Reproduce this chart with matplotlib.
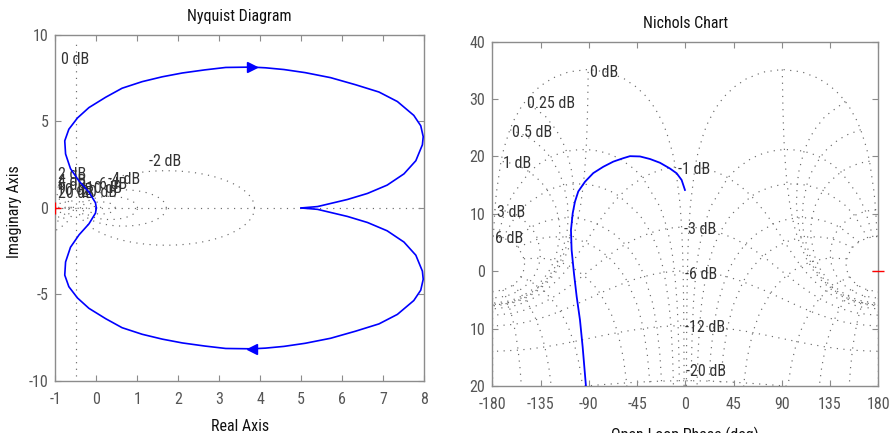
import numpy as np
import matplotlib
matplotlib.use("Agg")
import matplotlib.pyplot as plt
from matplotlib.patches import Rectangle

plt.rcParams['font.family'] = ['Liberation Sans Narrow', 'Arial Narrow', 'Roboto Condensed',
                               'Archivo Narrow', 'Liberation Sans', 'DejaVu Sans']
plt.rcParams['font.size'] = 11.5
plt.rcParams['axes.unicode_minus'] = False

# ---- Nyquist curve, positive-frequency half (w=0 at Re=5 down to the origin) ----
nyq_re = [5.00, 5.40, 5.72, 6.13, 6.62, 7.10, 7.51, 7.80, 7.96, 7.98, 7.92, 7.75,
          7.35, 6.90, 6.33, 5.72, 5.10, 4.58, 4.13, 3.80, 3.16, 2.65, 2.10, 1.61,
          1.12, 0.63, 0.23, -0.18, -0.46, -0.67, -0.77, -0.75, -0.63, -0.42, -0.18,
          -0.02, 0.00]
nyq_im = [0.00, -0.08, -0.26, -0.49, -0.84, -1.32, -1.97, -2.73, -3.65, -4.12, -4.75, -5.35,
          -6.15, -6.70, -7.12, -7.53, -7.82, -8.00, -8.10, -8.14, -8.12, -7.98, -7.80, -7.58,
          -7.30, -6.92, -6.40, -5.80, -5.20, -4.55, -3.88, -3.12, -2.27, -1.55, -0.92,
          -0.30, 0.00]
NYQ_ARROW = 19      # point carrying the direction arrow

# ---- Nichols curve (open-loop phase in deg, gain in dB) ----
nich_phase = [-0.3, -3.4, -8.0, -14.3, -23.6, -32.8, -42.2, -51.6, -57.8, -67.1, -76.5,
              -85.8, -93.5, -99.8, -102.9, -105.0, -106.6, -106.0, -103.8, -101.3, -98.2,
              -95.7, -92.6]
nich_gain = [14.16, 15.9, 17.06, 17.9, 18.9, 19.55, 20.0, 20.05, 19.7, 19.1, 18.2,
             17.1, 15.6, 13.9, 12.1, 10.1, 7.2, 3.7, -0.4, -4.4, -8.5,
             -13.2, -20.1]

# ---- grid definitions ----
nyq_grid_db = [-20, -10, -6, -4, -2, 2, 4, 6, 10, 20]
nyq_labels = [("0 dB", -0.52, 8.6), ("-2 dB", 1.69, 2.68), ("-4 dB", 0.67, 1.62),
              ("-6 dB", 0.35, 1.35), ("-10 dB", 0.15, 1.10), ("-20 dB", 0.02, 0.90),
              ("2 dB", -0.59, 1.92), ("4 dB", -0.60, 1.55), ("6 dB", -0.60, 1.28),
              ("10 dB", -0.52, 1.02), ("20 dB", -0.50, 0.85)]

# closed-loop phase lines and the closed-loop gains they run through
cl_phase = [1, 5, 10, 20, 30, 50, 90, 120, 150, 180]
cl_phase_gains = [6, 3, 2, 1, .75, .5, .4, .3, .25, .2, .15, .1, .05, 0, -.05, -.1, -.15,
                  -.2, -.25, -.3, -.4, -.5, -.75, -1, -2, -3, -4, -5, -6, -9, -12, -16,
                  -20, -30, -40, -50, -60, -70, -80, -90, -100, -110, -120]
# closed-loop gain lines and the closed-loop phases they run through
cl_gain = [6, 3, 1, .5, .25, 0, -1, -3, -6, -12, -20, -40]
cl_gain_phases = [1, 2, 3, 4, 5, 7.5, 10, 15, 20, 25, 30, 45, 60, 75, 90, 105, 120,
                  135, 150, 175, 180]
nich_labels = [("0 dB", -89, 34.7), ("0.25 dB", -148, 29.3), ("0.5 dB", -162, 24.2),
               ("1 dB", -170, 18.8), ("3 dB", -176, 10.3), ("6 dB", -177.5, 5.7),
               ("-1 dB", -6.5, 17.8), ("-3 dB", -1, 7.3), ("-6 dB", -0.3, -0.5),
               ("-12 dB", -0.3, -9.8), ("-20 dB", 0.3, -17.4)]

GRID = dict(color='#6a6a6a', lw=0.85, ls=(0, (1, 4.6)), zorder=1)
LBL = dict(color='#333333', fontsize=11.5, va='center', zorder=3)
BLUE = '#0000ff'


def style(ax):
    for s in ax.spines.values():
        s.set_color('#8c8c8c')
        s.set_linewidth(1.0)
    ax.tick_params(direction='in', length=4, width=0.8, color='#8c8c8c',
                   labelcolor='#555555', top=True, right=True, labelsize=11.5)
    ax.tick_params(axis='x', pad=8)
    ax.tick_params(axis='y', pad=5)


fig = plt.figure(figsize=(8.91, 4.42), dpi=100)
ax1 = fig.add_axes([0.0621, 0.138, 0.4138, 0.783])
ax2 = fig.add_axes([0.5525, 0.1267, 0.4332, 0.779])

# ================= Nyquist =================
t = np.linspace(0, 2 * np.pi, 600)
for db in nyq_grid_db:
    m = 10 ** (db / 20)
    c = -m ** 2 / (m ** 2 - 1)
    r = abs(m / (m ** 2 - 1))
    ax1.plot(c + r * np.cos(t), r * np.sin(t), **GRID)
ax1.plot([-0.5, -0.5], [-9.7, 9.7], **GRID)
ax1.plot([-1, 8], [0, 0], **GRID)
for txt, x, y in nyq_labels:
    ax1.text(x, y, txt, ha='center', **LBL)

re = np.array(nyq_re)
im = np.array(nyq_im)
ax1.plot(re, im, color=BLUE, lw=1.2, zorder=4)
ax1.plot(re, -im, color=BLUE, lw=1.2, zorder=4)
ax1.plot(re[NYQ_ARROW], im[NYQ_ARROW], '<', color=BLUE, ms=7, zorder=5)
ax1.plot(re[NYQ_ARROW], -im[NYQ_ARROW], '>', color=BLUE, ms=7, zorder=5)
ax1.plot([-1], [0], '+', color='red', ms=9, mew=1.0, zorder=4)

ax1.set_xlim(-1, 8)
ax1.set_ylim(-10, 10)
ax1.set_xticks(range(-1, 9))
ax1.set_yticks([-10, -5, 0, 5, 10])
style(ax1)
ax1.set_title('Nyquist Diagram', fontsize=11.5, pad=10, color='#111111')
ax1.set_xlabel('Real Axis', fontsize=11.5, color='#111111', va='top')
ax1.xaxis.set_label_coords(0.5, -0.110)
ax1.set_ylabel('Imaginary Axis', fontsize=11.5, color='#111111')
ax1.yaxis.set_label_coords(-0.09, 0.49)

# ================= Nichols =================
P, G = np.meshgrid(np.radians(cl_phase), 10 ** (np.array(cl_phase_gains) / 20))
z = G * np.exp(1j * P)
H = z / (1 - z)
gH = 20 * np.log10(np.abs(H))
pH = np.mod(np.degrees(np.angle(H)) + 360, 360)
gH = np.hstack([gH, gH])
pH = np.hstack([pH, 360 - pH])

p2 = np.array(cl_gain_phases, float)
p2 = np.concatenate([p2, 360 - p2[:-1][::-1]])
G2, P2 = np.meshgrid(10 ** (np.array(cl_gain) / 20), np.radians(p2))
z2 = G2 * np.exp(1j * P2)
H2 = z2 / (1 - z2)
gH2 = 20 * np.log10(np.abs(H2))
pH2 = np.mod(np.degrees(np.angle(H2)) + 360, 360)

for ph, gn in [(pH, gH), (pH2, gH2)]:
    for k in range(ph.shape[1]):
        for shift in (-360, 0):
            ax2.plot(ph[:, k] + shift, gn[:, k], **GRID)
for txt, x, y in nich_labels:
    ax2.text(x, y, txt, ha='left', **LBL)

ax2.plot(nich_phase, nich_gain, color=BLUE, lw=1.3, zorder=4)
ax2.plot([180], [0], '_', color='red', ms=9, mew=1.0, zorder=4, clip_on=False)

ax2.set_xlim(-180, 180)
ax2.set_ylim(-20, 40)
ax2.set_xticks(range(-180, 181, 45))
ax2.set_yticks([-20, -10, 0, 10, 20, 30, 40])
ax2.set_yticklabels(['20', '10', '0', '10', '20', '30', '40'])
style(ax2)
ax2.set_title('Nichols Chart', fontsize=11.5, pad=9.7, color='#111111')
ax2.set_xlabel('Open-Loop Phase (deg)', fontsize=11.5, color='#111111', va='top')
ax2.xaxis.set_label_coords(0.5, -0.117)

# the reference is cropped just under the axis labels
fig.patches.append(Rectangle((0, 0), 1, 9 / 442, transform=fig.transFigure,
                             facecolor='white', edgecolor='none', zorder=10))

fig.savefig('out.png', dpi=100)
